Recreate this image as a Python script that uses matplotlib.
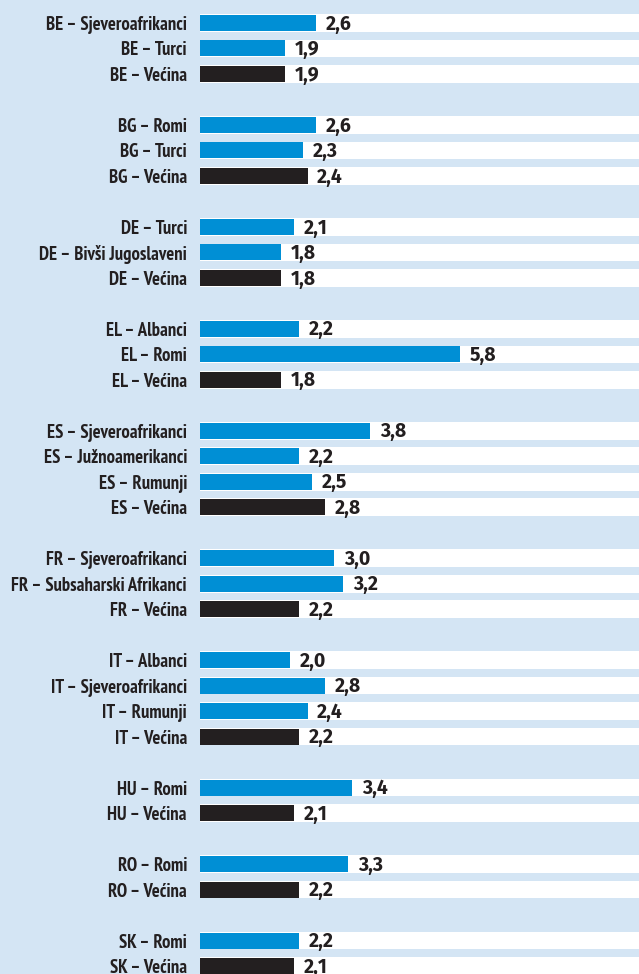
import matplotlib.pyplot as plt
import numpy as np

# skupine i vrijednosti
groups = [
    ["BE – Sjeveroafrikanci", "BE – Turci", "BE – Većina"],
    ["BG – Romi", "BG – Turci", "BG – Većina"],
    ["DE – Turci", "DE – Bivši Jugoslaveni", "DE – Većina"],
    ["EL – Albanci", "EL – Romi", "EL – Većina"],
    ["ES – Sjeveroafrikanci", "ES – Južnoamerikanci", "ES – Rumunji", "ES – Većina"],
    ["FR – Sjeveroafrikanci", "FR – Subsaharski Afrikanci", "FR – Većina"],
    ["IT – Albanci", "IT – Sjeveroafrikanci", "IT – Rumunji", "IT – Većina"],
    ["HU – Romi", "HU – Većina"],
    ["RO – Romi", "RO – Većina"],
    ["SK – Romi", "SK – Većina"],
]
values = [
    [2.6, 1.9, 1.9],
    [2.6, 2.3, 2.4],
    [2.1, 1.8, 1.8],
    [2.2, 5.8, 1.8],
    [3.8, 2.2, 2.5, 2.8],
    [3.0, 3.2, 2.2],
    [2.0, 2.8, 2.4, 2.2],
    [3.4, 2.1],
    [3.3, 2.2],
    [2.2, 2.1],
]

BG = '#d4e5f4'
BLUE = '#008fd5'
BLACK = '#231f20'

label_fonts = ['PT Sans Narrow', 'Roboto Condensed', 'Open Sans Condensed',
               'Fira Sans Condensed', 'Barlow Semi Condensed', 'DejaVu Sans']
value_fonts = ['Fira Sans', 'PT Sans', 'Open Sans', 'DejaVu Sans']

# pozicije redaka (prazan red između skupina)
pos, labels, vals, colors = [], [], [], []
row = 0
for g, v in zip(groups, values):
    for lab, val in zip(g, v):
        pos.append(row)
        labels.append(lab)
        vals.append(val)
        colors.append(BLACK if lab.endswith('Većina') else BLUE)
        row += 1
    row += 1
pos = np.array(pos)

fig = plt.figure(figsize=(6.39, 9.74), dpi=100, facecolor=BG)
ax = fig.add_axes([200 / 639, 0, 439 / 639, 1], facecolor=BG)

xmax = 439 / 44.8
ax.barh(pos, xmax, height=0.69, color='white', zorder=1)
ax.barh(pos, vals, height=0.63, color=colors, zorder=2)

for y, v in zip(pos, vals):
    ax.text(v + 0.22, y + 0.04, f"{v:.1f}".replace('.', ','), va='center', ha='left',
            fontsize=14, fontweight='bold', family=value_fonts, color=BLACK, zorder=3)

ax.set_yticks(pos)
ax.set_yticklabels(labels, fontsize=13.4, fontweight='bold', family=label_fonts, color=BLACK)
ax.tick_params(axis='y', length=0, pad=9.4)
ax.set_xticks([])
ax.set_xlim(0, xmax)
ax.set_ylim(pos[-1] + 0.31, -0.9)
for s in ax.spines.values():
    s.set_visible(False)

plt.savefig('out.png', dpi=100, facecolor=BG)
plt.close('all')
